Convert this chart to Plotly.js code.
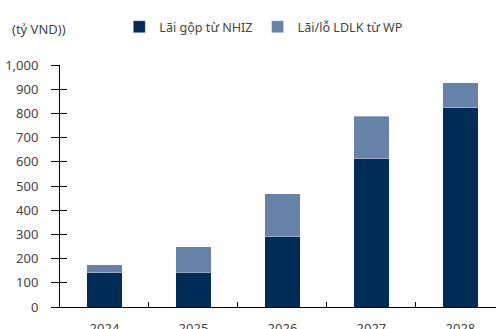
<!DOCTYPE html>
<html><head><meta charset="utf-8">
<script src="https://cdn.plot.ly/plotly-3.0.1.min.js"></script>
<style>html,body{margin:0;padding:0;overflow:hidden;background:#fff}</style>
</head><body><div id="chart" style="width:496px;height:329px"></div>
<script>
const years = ['2024','2025','2026','2027','2028'];
const nhiz = [142, 143, 291, 613, 824];
const wp = [32, 105, 176, 175, 102];
const yTicks = [0,100,200,300,400,500,600,700,800,900,1000];

const font = {family: '"Source Sans Pro", "Noto Sans", Lato, sans-serif', size: 13, color: '#444'};
const legFont = {family: '"Source Sans Pro", "Noto Sans", Lato, sans-serif', size: 12.6, color: '#444'};
const traces = [
  {type:'bar', name:'Lãi gộp từ NHIZ', x: years, y: nhiz, width: 0.4,
   marker:{color:'#002d57', line:{color:'rgba(255,255,255,0.35)', width:1}}},
  {type:'bar', name:'Lãi/lỗ LDLK từ WP', x: years, y: wp, width: 0.4,
   marker:{color:'#6682a8', line:{color:'rgba(255,255,255,0.35)', width:1}}},
  {type:'scatter', x: years, y: nhiz, yaxis:'y2', mode:'none', showlegend:false, hoverinfo:'skip'}
];
const layout = {
  width:496, height:329, barmode:'stack', bargap:0.6,
  margin:{l:60, r:0, t:65, b:22, pad:0},
  paper_bgcolor:'#fff', plot_bgcolor:'#fff', font: font,
  title:{text:'(tỷ VND))', x:12/496, xanchor:'left', xref:'container', y:1-29/329, yref:'container', yanchor:'middle', font:font},
  showlegend:true,
  legend:{orientation:'h', x:0.136, xanchor:'left', y:1-27/329, yref:'container', yanchor:'middle', font:legFont, traceorder:'normal'},
  xaxis:{type:'category', range:[-0.5,4.4], showline:true, linecolor:'#000', linewidth:1, ticks:'inside', ticklen:5, tickcolor:'#000', tickson:'boundaries', showgrid:false, zeroline:false, tickfont:font, ticklabelstandoff:9},
  yaxis:{range:[0,1000], tickvals:yTicks, tickformat:',d', showline:true, linecolor:'#000', linewidth:1, ticks:'outside', ticklen:8, tickcolor:'#000', showgrid:false, zeroline:false, tickfont:font, ticklabelstandoff:10},
  yaxis2:{overlaying:'y', range:[0,1000], tickvals:yTicks, showticklabels:false, ticks:'inside', ticklen:7, tickcolor:'#000', showgrid:false, zeroline:false, showline:false}
};
Plotly.newPlot('chart', traces, layout, {displayModeBar:false, staticPlot:true});
</script></body></html>
